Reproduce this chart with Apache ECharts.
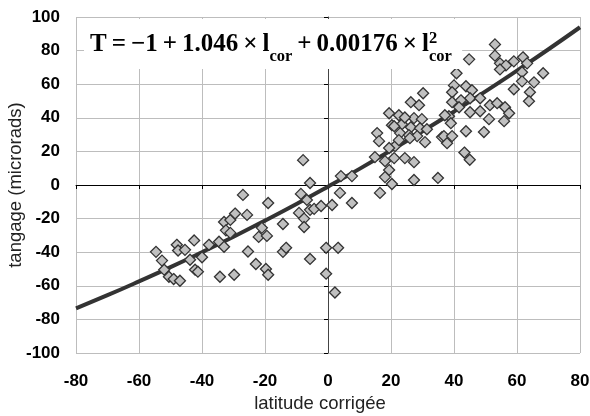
<!DOCTYPE html>
<html>
<head>
<meta charset="utf-8">
<script src="https://cdn.jsdelivr.net/npm/echarts@6/dist/echarts.min.js"></script>
<style>
  html, body { margin: 0; padding: 0; background: #fff; }
  #chart { width: 590px; height: 416px; }
</style>
</head>
<body>
<div id="chart"></div>
<script>
// points
const latitude = [
  -54.6, -52.7, -52, -50.5, -49, -47, -48, -47.6, -45.4, -42.5, -43.8, -42.2, -41.3, -40, -37.8, -34.6, -33, -34.3, -29.8,
  -33, -32.4, -31, -31, -29.5,
  -27, -25.7, -21, -22, -19.4, -19, -14.3, -8.6, -6.7, -9.2, -7.6, -7.6, -5.7, -4.4, -2.2, 1.3, 3.8, 4.1, 7.6, 7.6, -7.9, -5.7,
  -25.4, -22.9, -19.7, -19, -14.3, -13.3, -5.7, -0.6, 3.2, -0.6, 2.2,
  15.6, 16.2, 21.3, 19.4, 14.9, 18.1, 21, 24.4, 27.3, 19.4, 18.1, 20.3, 27.3, 16.5, 34.9,
  30.2, 26.3, 28.9, 19.4, 22.5, 27.3, 29.8, 20.3, 23.5, 26.3, 29.2, 31.4, 22.9, 25.7, 28.3, 30.8,
  22.5, 26, 24.4, 21,
  53, 53, 54.6, 56.5, 54.6, 59, 61.9, 63.2, 61.6, 68.3, 61.6, 65.4, 59, 64.1, 63.8,
  44.8, 40.8, 40, 43.8, 45.7, 39.4, 45.1, 48.3, 39.4, 42.2, 41.6, 45.1, 48.3, 51.4, 53.7, 56.2, 57.5, 55.9, 51.1,
  49.5, 43.8, 38.4, 37.1, 39, 36.2, 36.8, 37.8, 39.4, 43.3, 45
];
const tangage = [
  -39.8, -45, -50.4, -54.6, -56, -57, -35.6, -39, -38.6, -33, -44.5, -50.4, -51.6, -43, -35.6, -33.8, -36.8, -54.6, -53.4,
  -22, -27, -28.5, -20.8, -17,
  -5.9, -17.8, -25.5, -30.9, -30.3, -10.7, -23.2, -5.3, -8.9, -16.6, -20, -25, -14.8, -14.2, -12.5, -11.9, -4.7, 5.3, 5.3, -10.7, 14.8, 1.2,
  -39.6, -47, -50, -53.4, -39.8, -37.4, -44, -37.4, -37.4, -52.8, -64,
  30.9, 26.1, 23.1, 22, 16.6, 14.2, 16, 16, 13.6, 8.9, 4.7, 0.6, 3, -4.7, 4.2,
  54.6, 49.3, 47.5, 42.7, 41.5, 39.8, 39.2, 35.6, 36.2, 34.4, 33.8, 33.2, 30.9, 29.7, 29.1, 25.5,
  26.7, 27.9, 40.2, 35,
  83.7, 77, 72.4, 71.2, 68.8, 73.6, 76, 72.4, 67.1, 66.5, 61.7, 61.1, 57, 55.2, 49.9,
  74.8, 66.5, 59.3, 58.8, 56.4, 55.2, 51.6, 51.6, 49.3, 50.4, 46.3, 43.3, 43.9, 47.5, 48.7, 46.3, 42.7, 38, 39.2,
  31.5, 32, 40.9, 41.5, 36.8, 28.5, 29.1, 24.9, 29.1, 19.3, 15
];
// fitted curve
const curveLat = [-80, -70, -60, -50, -40, -30, -20, -10, 0, 10, 20, 30, 40, 50, 60, 70, 80];
const curveT   = [-73.4, -65.6, -57.4, -48.9, -40, -30.8, -21.2, -11.3, -1, 9.6, 20.6, 32, 43.7, 55.7, 68.1, 80.8, 93.9];

const points = latitude.map((x, i) => [x, tangage[i]]);
const curve = curveLat.map((x, i) => [x, curveT[i]]);

const chart = echarts.init(document.getElementById('chart'), null, { renderer: 'canvas' });

const labelFont = { fontFamily: 'Liberation Sans, Arial', fontWeight: 'bold', fontSize: 17, color: '#000' };
const nameFont = { fontFamily: 'Liberation Sans, Arial', fontSize: 18.5, color: '#222' };
const gridLine = { show: true, lineStyle: { color: '#bdbdbd', width: 1 } };

// equation: two stacked titles, the second one only shows the superscript 2
const th = '\u2009';
const eqHead = 'T' + th + '=' + th + '\u22121' + th + '+' + th + '1.046' + th + '\u00d7' + th + 'l';
const eqMid = th + '+' + th + '0.00176' + th + '\u00d7' + th + 'l';
function eqStyle(ink, hidden) {
  const base = { fontFamily: 'Liberation Serif', fontWeight: 'bold' };
  return Object.assign({
    fontSize: 25, color: ink,
    rich: {
      sub: Object.assign({ fontSize: 16.5, color: ink, verticalAlign: 'bottom', padding: [0, 0, -8, 0] }, base),
      sup: Object.assign({ fontSize: 16.5, color: hidden ? 'transparent' : '#000', padding: [-12, 0, 0, 0] }, base)
    }
  }, base);
}

chart.setOption({
  animation: false,
  backgroundColor: '#fff',
  grid: { left: 76, right: 10, top: 17, bottom: 63, outerBoundsMode: 'none', containLabel: false },
  title: [{
    left: 84, top: 21,
    padding: [11, 2, 4, 6],
    backgroundColor: '#fff',
    text: eqHead + '{sub|cor}' + eqMid + '{sub|cor}{sup|2}',
    textStyle: eqStyle('#000', true)
  }, {
    left: 84, top: 21,
    padding: [11, 2, 4, 6],
    text: eqHead + '{sub|cor}' + eqMid + '{sup|2}',
    textStyle: eqStyle('transparent', false)
  }],
  xAxis: [{
    type: 'value', min: -80, max: 80, interval: 20, position: 'bottom',
    axisLine: { show: false, onZero: false }, axisTick: { show: false },
    axisLabel: Object.assign({ margin: 20 }, labelFont),
    splitLine: gridLine,
    name: 'latitude corrig\u00e9e', nameLocation: 'middle', nameGap: 41, nameMoveOverlap: false,
    nameTextStyle: Object.assign({ padding: [0, 16, 0, 0] }, nameFont)
  }, {
    type: 'value', min: -80, max: 80, interval: 20, position: 'bottom',
    axisLine: { show: true, onZero: true, lineStyle: { color: '#000', width: 1 } },
    axisTick: { show: true, length: 4, lineStyle: { color: '#000' } },
    axisLabel: { show: false }, splitLine: { show: false }
  }],
  yAxis: [{
    type: 'value', min: -100, max: 100, interval: 20, position: 'left',
    axisLine: { show: false, onZero: false }, axisTick: { show: false },
    axisLabel: Object.assign({ margin: 16 }, labelFont),
    splitLine: gridLine,
    name: 'tangage (microrads)', nameLocation: 'middle', nameGap: 51, nameMoveOverlap: false,
    nameTextStyle: nameFont
  }, {
    type: 'value', min: -100, max: 100, interval: 20, position: 'left',
    axisLine: { show: true, onZero: true, lineStyle: { color: '#444', width: 1 } },
    axisTick: { show: true, length: 4, lineStyle: { color: '#000' } },
    axisLabel: { show: false }, splitLine: { show: false }
  }],
  series: [{
    type: 'line', data: curve, xAxisIndex: 0, yAxisIndex: 0,
    smooth: true, showSymbol: false, symbol: 'none', z: 2,
    lineStyle: { color: '#333', width: 4 }
  }, {
    type: 'scatter', data: points, xAxisIndex: 0, yAxisIndex: 0,
    symbol: 'diamond', symbolSize: 11, z: 3,
    itemStyle: { color: '#c0c0c0', borderColor: '#333', borderWidth: 1.3, opacity: 1 }
  }]
});
</script>
</body>
</html>
